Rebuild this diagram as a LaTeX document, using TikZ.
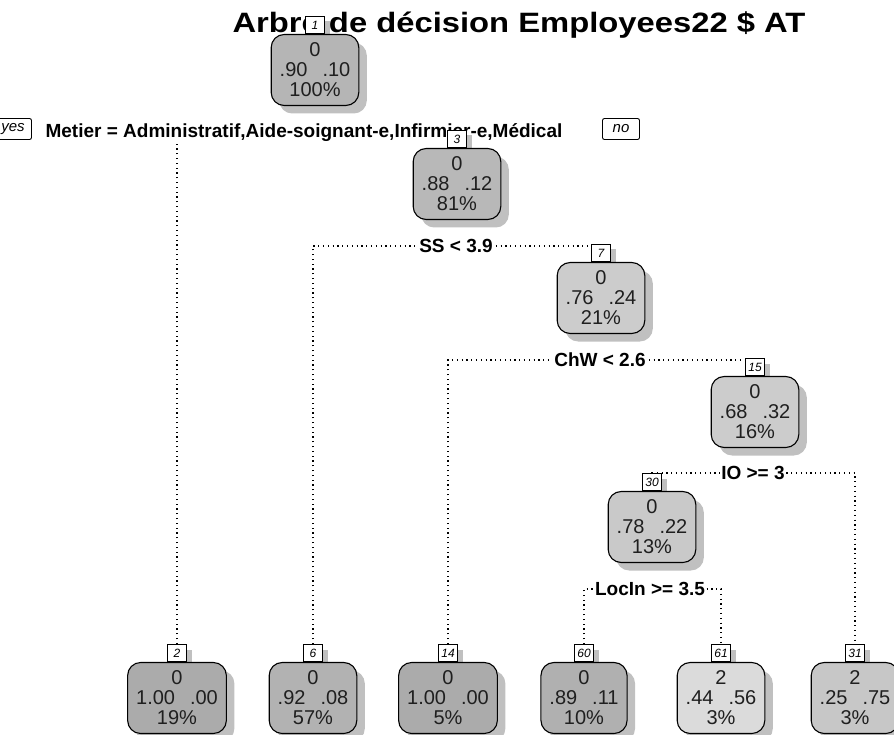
\documentclass[tikz,border=0pt]{standalone}
\usepackage{fontspec}
\setmainfont{Liberation Sans}
\usepackage{graphicx,xcolor}
\usetikzlibrary{positioning,shadows,backgrounds}
\definecolor{rpshd}{HTML}{C0C0C0}
\newcommand\probs[2]{#1\hspace{.75em}#2}

\begin{document}
\begin{tikzpicture}[x=1pt,y=-1pt,
  node distance=0pt,
  B/.style={draw,line width=1.1pt,rounded corners=13pt,align=center,
            font=\fontsize{20}{20}\selectfont,text=black!88,
            minimum height=71pt,minimum width=85pt,
            inner xsep=8.5pt,inner ysep=5pt,
            general shadow={fill=rpshd,shadow xshift=8pt,shadow yshift=-8pt}},
  K/.style={draw,fill=white,line width=.9pt,inner sep=1pt,
            minimum height=17pt,minimum width=19pt,
            font=\fontsize{12}{13}\selectfont\itshape,
            general shadow={fill=rpshd,shadow xshift=5pt,shadow yshift=-5pt}},
  Q/.style={fill=white,inner sep=1pt,
            font=\bfseries\fontsize{19}{20}\selectfont},
  YN/.style={draw,fill=white,line width=.9pt,rounded corners=2pt,
             minimum width=37pt,minimum height=21pt,inner sep=1pt,
             font=\fontsize{15}{16}\selectfont\itshape},
  br/.style={line width=1.2pt,dash pattern=on 1.2pt off 3.6pt}
]
\useasboundingbox (0,0) rectangle (894,735);

\node[font=\bfseries\fontsize{28}{30}\selectfont](T) at (519,25)
     {\scalebox{1.17}[1]{Arbre de décision Employees22 \$ AT}};

% split labels
\node[YN](Y) at (13,129){yes};
\node[YN](No) at (621,129){no};
\node[Q](S1) at (304,133){Metier = Administratif,Aide-soignant-e,Infirmier-e,Médical};
\node[Q](S2) at (456,246){SS < 3.9};
\node[Q](S3) at (600,360){ChW < 2.6};
\node[Q](S4) at (753,473){IO >= 3};
\node[Q](S5) at (650,589){LocIn >= 3.5};

% inner nodes
\node[K](L1) at (315,25){1};
\node[B,fill=black!29,below=of L1](N1){0\\\probs{.90}{.10}\\100\%};
\node[K](L3) at (457,139){3};
\node[B,fill=black!28,below=of L3](N3){0\\\probs{.88}{.12}\\81\%};
\node[K](L7) at (601,253){7};
\node[B,fill=black!20,below=of L7](N7){0\\\probs{.76}{.24}\\21\%};
\node[K](L15) at (755,367){15};
\node[B,fill=black!20,below=of L15](N15){0\\\probs{.68}{.32}\\16\%};
\node[K](L30) at (652,482){30};
\node[B,fill=black!21,below=of L30](N30){0\\\probs{.78}{.22}\\13\%};

% leaves
\node[K](L2) at (177,653){2};
\node[B,fill=black!33,below=of L2](N2){0\\\probs{1.00}{.00}\\19\%};
\node[K](L6) at (313,653){6};
\node[B,fill=black!30,below=of L6](N6){0\\\probs{.92}{.08}\\57\%};
\node[K](L14) at (448,653){14};
\node[B,fill=black!33,below=of L14](N14){0\\\probs{1.00}{.00}\\5\%};
\node[K](L60) at (584,653){60};
\node[B,fill=black!31,below=of L60](N60){0\\\probs{.89}{.11}\\10\%};
\node[K](L61) at (721,653){61};
\node[B,fill=black!14,below=of L61](N61){2\\\probs{.44}{.56}\\3\%};
\node[K](L31) at (855,653){31};
\node[B,fill=black!22,below=of L31](N31){2\\\probs{.25}{.75}\\3\%};

\begin{scope}[on background layer]
\draw[br](L2.north)|-(S1.center)-|(L3.north);
\draw[br](L6.north)|-(S2.center)-|(L7.north);
\draw[br](L14.north)|-(S3.center)-|(L15.north);
\draw[br](L30.north)|-(S4.center)-|(L31.north);
\draw[br](L60.north)|-(S5.center)-|(L61.north);
\end{scope}
\end{tikzpicture}
\end{document}
